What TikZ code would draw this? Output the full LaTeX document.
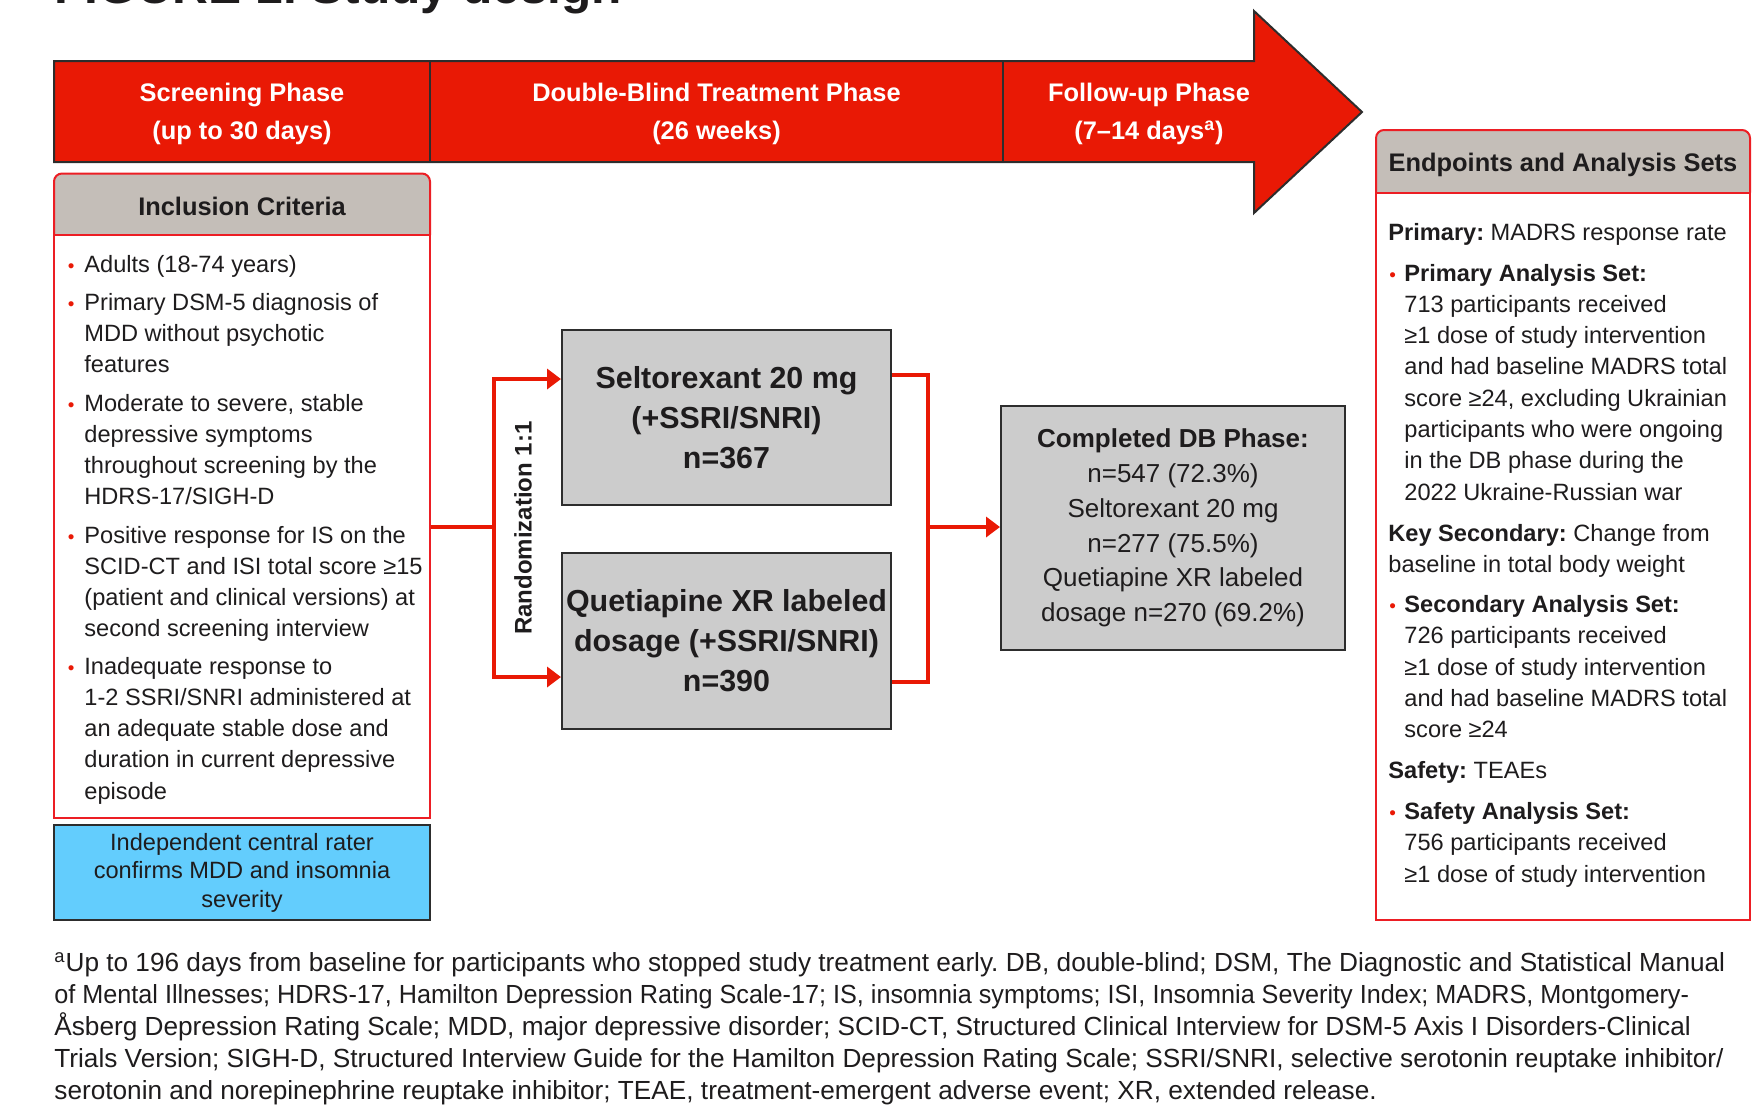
\documentclass[tikz,border=0pt]{standalone}
\usepackage{fontspec}
\setmainfont{Liberation Sans}
\usetikzlibrary{arrows.meta}
\definecolor{ired}{RGB}{233,25,5}
\definecolor{bred}{RGB}{236,30,36}
\definecolor{hgray}{RGB}{196,190,184}
\definecolor{bgray}{RGB}{204,204,204}
\definecolor{dgray}{RGB}{45,45,45}
\definecolor{lblue}{RGB}{99,205,253}
\definecolor{txt}{RGB}{30,28,29}
\frenchspacing
\newcommand\bitem[3]{\vtop{\hsize=#1\parindent=0pt\rightskip=0pt plus 1fil\hangindent=#2\hangafter=1\noindent\makebox[#2][l]{\textcolor{ired}{\scalebox{0.8}{\textbullet}}}#3}}
\newcommand\pblock[2]{\vtop{\hsize=#1\parindent=0pt\rightskip=0pt plus 1fil\noindent #2}}
\begin{document}
\begin{tikzpicture}[x=0.5pt,y=-0.5pt,
  body/.style={inner sep=0pt, anchor=base west, text=txt, font=\fontsize{11.8pt}{15.65pt}\selectfont},
  hdrtxt/.style={font=\bfseries\fontsize{12.7pt}{19pt}\selectfont, text=white, align=center, inner sep=0pt},
  boxtitle/.style={font=\bfseries\fontsize{12.7pt}{15pt}\selectfont, text=txt, inner sep=0pt},
  armbox/.style={draw=dgray, line width=1pt, fill=bgray, minimum width=164.5pt, align=center, text=txt, font=\bfseries\fontsize{15.2pt}{20pt}\selectfont, inner sep=0pt},
  framebox/.style={draw=bred, line width=1pt, inner sep=0pt},
  conn/.style={ired, line width=1.75pt},
  arr/.style={conn, -{Triangle[length=7pt,width=10pt]}},
]
\useasboundingbox (0,0) rectangle (1755,1105);

% title (cut off at top, as in the reference)
\node[anchor=base west, inner sep=0pt, font=\bfseries\fontsize{24.8pt}{28pt}\selectfont, text=txt] (title) at (54,3) {FIGURE 1. Study design};

% phase band arrow
\draw[fill=ired, draw=dgray, line width=1pt] (54,61) -- (1254,61) -- (1254,11) -- (1362,112) -- (1254,213) -- (1254,162) -- (54,162) -- cycle;
\draw[dgray, line width=1pt] (430,61) -- (430,162) (1003,61) -- (1003,162);
\node[hdrtxt] (ph1) at (242,114) {Screening Phase\\(up to 30 days)};
\node[hdrtxt] (ph2) at (716.5,114) {Double-Blind Treatment Phase\\(26 weeks)};
\node[hdrtxt] (ph3) at (1149,114) {Follow-up Phase\\(7–14 days\textsuperscript{a})};

% inclusion criteria
\filldraw[draw=bred, fill=hgray, line width=1pt, rounded corners=4pt] (54,235) -- (54,173.5) -- (430,173.5) -- (430,235);
\node[boxtitle] (inclT) at (242,206) {Inclusion Criteria};
\node[framebox, minimum width=188pt, minimum height=291.5pt] (incl) at (242,526.5) {};
\node[body] (c1) at (67.5,272) {\bitem{200pt}{8.25pt}{Adults (18-74 years)}};
\node[body] (c2) at (67.5,310) {\bitem{200pt}{8.25pt}{Primary DSM-5 diagnosis of\\MDD without psychotic\\features}};
\node[body] (c3) at (67.5,411) {\bitem{200pt}{8.25pt}{Moderate to severe, stable\\depressive symptoms\\throughout screening by the\\HDRS-17/SIGH-D}};
\node[body] (c4) at (67.5,543) {\bitem{200pt}{8.25pt}{Positive response for IS on the\\SCID-CT and ISI total score ≥15\\(patient and clinical versions) at\\second screening interview}};
\node[body] (c5) at (67.5,674) {\bitem{200pt}{8.25pt}{Inadequate response to\\1-2 SSRI/SNRI administered at\\an adequate stable dose and\\duration in current depressive\\episode}};

\node[draw=dgray, line width=1pt, fill=lblue, minimum width=188pt, minimum height=47.5pt, inner sep=0pt, align=center, text=txt, font=\fontsize{11.8pt}{14.25pt}\selectfont] (rater) at (242,872.5) {Independent central rater\\confirms MDD and insomnia\\severity};

% treatment arms
\node[armbox, minimum height=87.5pt] (selt) at (726.5,417.5) {Seltorexant 20 mg\\(+SSRI/SNRI)\\n=367};
\node[armbox, minimum height=88pt] (quet) at (726.5,641) {Quetiapine XR labeled\\dosage (+SSRI/SNRI)\\n=390};

\coordinate (rj) at (494,527);
\coordinate (rt) at (494,379);
\coordinate (rb) at (494,677);
\draw[conn] (incl.east |- rj) -- (rj);
\draw[arr] (rj) |- (rt -| selt.west);
\draw[arr] (rj) |- (rb -| quet.west);
\node[rotate=90, font=\bfseries\fontsize{12pt}{14pt}\selectfont, text=txt, inner sep=0pt] (rand) at (523,528) {Randomization 1:1};

% completed box
\node[draw=dgray, line width=1pt, fill=bgray, minimum width=172pt, minimum height=122pt, inner sep=0pt, align=center, text=txt, font=\fontsize{13pt}{17.35pt}\selectfont] (done) at (1173,528) {\textbf{Completed DB Phase:}\\n=547 (72.3\%)\\Seltorexant 20 mg\\n=277 (75.5\%)\\Quetiapine XR labeled\\dosage n=270 (69.2\%)};

\coordinate (mt) at (928,375);
\coordinate (mb) at (928,682);
\coordinate (mj) at (928,527);
\draw[conn] (mt -| selt.east) -- (mt) -- (mb) -- (mb -| quet.east);
\draw[arr] (mj) -- (mj -| done.west);

% endpoints
\filldraw[draw=bred, fill=hgray, line width=1pt, rounded corners=4pt] (1376,192.5) -- (1376,130) -- (1750,130) -- (1750,192.5);
\node[boxtitle] (endT) at (1563,165) {Endpoints and Analysis Sets};
\node[framebox, minimum width=187pt, minimum height=363.75pt] (endp) at (1563,556.25) {};
\node[body] (e1) at (1388,240) {\pblock{200pt}{\textbf{Primary:} MADRS response rate}};
\node[body] (e2) at (1389,281) {\bitem{200pt}{7.5pt}{\textbf{Primary Analysis Set:}\\713 participants received\\≥1 dose of study intervention\\and had baseline MADRS total\\score ≥24, excluding Ukrainian\\participants who were ongoing\\in the DB phase during the\\2022 Ukraine-Russian war}};
\node[body] (e3) at (1388,541) {\pblock{200pt}{\textbf{Key Secondary:} Change from\\baseline in total body weight}};
\node[body] (e4) at (1389,612.5) {\bitem{200pt}{7.5pt}{\textbf{Secondary Analysis Set:}\\726 participants received\\≥1 dose of study intervention\\and had baseline MADRS total\\score ≥24}};
\node[body] (e5) at (1388,778) {\pblock{200pt}{\textbf{Safety:} TEAEs}};
\node[body] (e6) at (1389,819.6) {\bitem{200pt}{7.5pt}{\textbf{Safety Analysis Set:}\\756 participants received\\≥1 dose of study intervention}};

% footnote
\node[body, font=\fontsize{13.1pt}{16pt}\selectfont] (fn) at (54,971) {\vtop{%
\hbox{\textsuperscript{a}Up to 196 days from baseline for participants who stopped study treatment early. DB, double-blind; DSM, The Diagnostic and Statistical Manual}
\hbox{\scalebox{0.962}[1]{of Mental Illnesses; HDRS-17, Hamilton Depression Rating Scale-17; IS, insomnia symptoms; ISI, Insomnia Severity Index; MADRS, Montgomery-}}
\hbox{Åsberg Depression Rating Scale; MDD, major depressive disorder; SCID-CT, Structured Clinical Interview for DSM-5 Axis I Disorders-Clinical}
\hbox{Trials Version; SIGH-D, Structured Interview Guide for the Hamilton Depression Rating Scale; SSRI/SNRI, selective serotonin reuptake inhibitor/}
\hbox{serotonin and norepinephrine reuptake inhibitor; TEAE, treatment-emergent adverse event; XR, extended release.}}};
\end{tikzpicture}
\end{document}
